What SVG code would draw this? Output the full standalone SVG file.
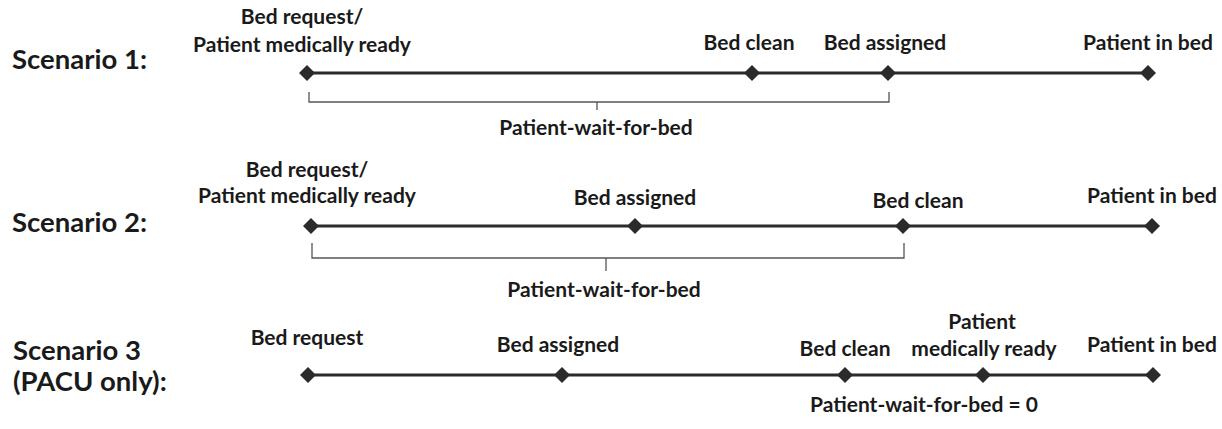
<svg xmlns="http://www.w3.org/2000/svg" width="1222" height="429" viewBox="0 0 1222 429">
<defs>
<style>
text{font-family:Lato,"Liberation Sans",sans-serif;font-weight:bold;fill:#1a1a1a;}
.lbl{font-size:21px;text-anchor:middle;}
.scn{font-size:27.5px;}
.wait{font-size:21px;text-anchor:middle;}
.tl{stroke:#2b2b2b;stroke-width:3;fill:none;}
.br{stroke:#555;stroke-width:1.3;fill:none;}
.dm{fill:#2b2b2b;}
</style>
<path id="d" class="dm" d="M0,-8 L8,0 L0,8 L-8,0 Z"/>
</defs>
<rect width="1222" height="429" fill="#fff"/>
<g id="connectors">
<line class="tl" x1="307" y1="73" x2="1148" y2="73"/>
<line class="tl" x1="311" y1="226" x2="1152" y2="226"/>
<line class="tl" x1="308" y1="375" x2="1153" y2="375"/>
<path class="br" d="M309,92 V102 H889 V92 M597,102 V110"/>
<path class="br" d="M312,243 V258 H904 V243 M606,258 V271"/>
</g>
<g id="scenario1">
<text class="scn" x="12" y="69">Scenario 1:</text>
<g id="s1-request"><use href="#d" x="307" y="73"/><text class="lbl" x="302" y="24">Bed request/</text><text class="lbl" x="302" y="52">Patient medically ready</text></g>
<g id="s1-clean"><use href="#d" x="752" y="73"/><text class="lbl" x="749" y="50">Bed clean</text></g>
<g id="s1-assigned"><use href="#d" x="888" y="73"/><text class="lbl" x="885" y="50">Bed assigned</text></g>
<g id="s1-inbed"><use href="#d" x="1148" y="73"/><text class="lbl" x="1148" y="50">Patient in bed</text></g>
<text class="wait" x="596" y="135">Patient-wait-for-bed</text>
</g>
<g id="scenario2">
<text class="scn" x="12" y="232">Scenario 2:</text>
<g id="s2-request"><use href="#d" x="311" y="226"/><text class="lbl" x="307" y="177">Bed request/</text><text class="lbl" x="307" y="203">Patient medically ready</text></g>
<g id="s2-assigned"><use href="#d" x="635" y="226"/><text class="lbl" x="635" y="205">Bed assigned</text></g>
<g id="s2-clean"><use href="#d" x="903" y="226"/><text class="lbl" x="918" y="208">Bed clean</text></g>
<g id="s2-inbed"><use href="#d" x="1152" y="226"/><text class="lbl" x="1152" y="203">Patient in bed</text></g>
<text class="wait" x="604" y="297">Patient-wait-for-bed</text>
</g>
<g id="scenario3">
<text class="scn" x="13" y="360">Scenario 3</text>
<text class="scn" x="13" y="391">(PACU only):</text>
<g id="s3-request"><use href="#d" x="308" y="375"/><text class="lbl" x="307" y="345">Bed request</text></g>
<g id="s3-assigned"><use href="#d" x="562" y="375"/><text class="lbl" x="558" y="352">Bed assigned</text></g>
<g id="s3-clean"><use href="#d" x="845" y="375"/><text class="lbl" x="845" y="356">Bed clean</text></g>
<g id="s3-ready"><use href="#d" x="983" y="375"/><text class="lbl" x="982" y="329">Patient</text><text class="lbl" x="984" y="356">medically ready</text></g>
<g id="s3-inbed"><use href="#d" x="1153" y="375"/><text class="lbl" x="1152" y="352">Patient in bed</text></g>
<text class="wait" x="924" y="412">Patient-wait-for-bed = 0</text>
</g>
</svg>
